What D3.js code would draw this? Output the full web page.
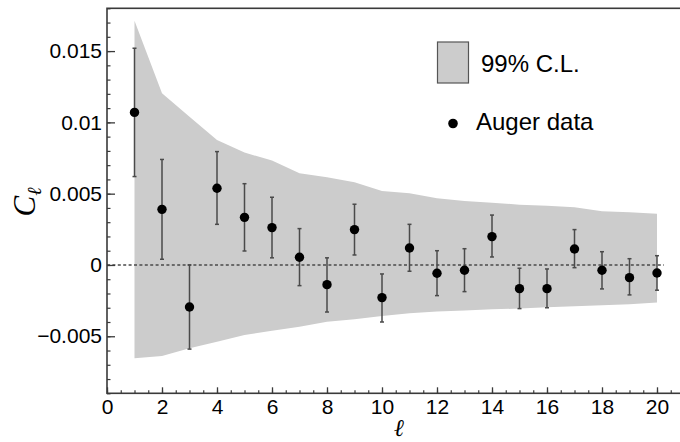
<!DOCTYPE html>
<html>
<head>
<meta charset="utf-8">
<script src="https://cdn.jsdelivr.net/npm/d3@7"></script>
<style>
  body { margin: 0; padding: 0; background: #fff; }
  svg { display: block; }
</style>
</head>
<body>
<div id="main"></div>
<script>
// multipole index
const ells = [1, 2, 3, 4, 5, 6, 7, 8, 9, 10, 11, 12, 13, 14, 15, 16, 17, 18, 19, 20];
// Auger data points and error bar ends
const augerCl = [0.0107, 0.0039, -0.00295, 0.00538, 0.00334, 0.00262, 0.00054, -0.00138, 0.00248, -0.00229,
                 0.00119, -0.00058, -0.00037, 0.00199, -0.00166, -0.00166, 0.00112, -0.00037, -0.00089, -0.00056];
const errLow = [0.0062, 0.0004, -0.0059, 0.00285, 0.00098, 0.0005, -0.00145, -0.0033, 0.0007, -0.004,
                -0.00044, -0.00215, -0.00187, 0.00056, -0.00306, -0.003, -0.00019, -0.00168, -0.0021, -0.00177];
const errHigh = [0.0152, 0.0074, 0.0, 0.00795, 0.0057, 0.00475, 0.00255, 0.0005, 0.00426, -0.00063,
                 0.00285, 0.001, 0.00114, 0.0035, -0.00023, -0.00028, 0.00248, 0.00093, 0.00044, 0.00065];
// 99% C.L. band
const bandHigh = [0.01713, 0.01204, 0.0104, 0.00877, 0.00788, 0.00732, 0.00643, 0.00615, 0.0058, 0.00519,
                  0.00503, 0.00468, 0.00449, 0.00437, 0.00423, 0.00416, 0.00405, 0.00377, 0.0037, 0.0036];
const bandLow = [-0.00654, -0.00638, -0.00584, -0.00538, -0.00491, -0.00461, -0.00433, -0.00398, -0.00381, -0.00358,
                 -0.00339, -0.00327, -0.0032, -0.00311, -0.00306, -0.00297, -0.0029, -0.00283, -0.00276, -0.00264];
const xTicks = [0, 2, 4, 6, 8, 10, 12, 14, 16, 18, 20];
const yTicks = [-0.005, 0, 0.005, 0.01, 0.015];
const yTickLabels = ['\u22120.005', '0', '0.005', '0.01', '0.015'];
const legendLabels = ['99% C.L.', 'Auger data'];

const WIDTH = 680, HEIGHT = 442;
const LEFT = 107, TOP = 8.3, BOTTOM = 393.3;
const AXISCOLOR = '#3a3a3a';
const FONT = '"Liberation Sans", Arial, Helvetica, sans-serif';

const scaleX = d3.scaleLinear().domain([0, 21]).range([LEFT, LEFT + 27.5 * 21]);
const scaleY = d3.scaleLinear().domain([-0.009, 0.018]).range([BOTTOM, TOP]);

const svg = d3.select('#main').append('svg')
    .attr('width', WIDTH)
    .attr('height', HEIGHT)
    .style('font-family', FONT);

const rows = ells.map((l, i) => ({l, v: augerCl[i], lo: errLow[i], hi: errHigh[i], bLo: bandLow[i], bHi: bandHigh[i]}));

// band
const area = d3.area()
    .x((d) => scaleX(d.l))
    .y0((d) => scaleY(d.bLo))
    .y1((d) => scaleY(d.bHi));
svg.append('path')
    .datum(rows)
    .attr('d', area)
    .attr('fill', '#cccccc');

// zero line
svg.append('line')
    .attr('x1', scaleX(0))
    .attr('x2', scaleX(20.25))
    .attr('y1', scaleY(0))
    .attr('y2', scaleY(0))
    .attr('stroke', '#4a4a4a')
    .attr('stroke-width', 1.4)
    .attr('stroke-dasharray', '3,2.4');

// error bars
const bars = svg.append('g').attr('stroke', '#4a4a4a').attr('stroke-width', 1.5);
bars.selectAll('line.err').data(rows).enter().append('line')
    .attr('class', 'err')
    .attr('x1', (d) => scaleX(d.l))
    .attr('x2', (d) => scaleX(d.l))
    .attr('y1', (d) => scaleY(d.lo))
    .attr('y2', (d) => scaleY(d.hi));
bars.selectAll('line.caplo').data(rows).enter().append('line')
    .attr('class', 'caplo')
    .attr('x1', (d) => scaleX(d.l) - 2)
    .attr('x2', (d) => scaleX(d.l) + 2)
    .attr('y1', (d) => scaleY(d.lo))
    .attr('y2', (d) => scaleY(d.lo));
bars.selectAll('line.caphi').data(rows).enter().append('line')
    .attr('class', 'caphi')
    .attr('x1', (d) => scaleX(d.l) - 2)
    .attr('x2', (d) => scaleX(d.l) + 2)
    .attr('y1', (d) => scaleY(d.hi))
    .attr('y2', (d) => scaleY(d.hi));

// points
svg.selectAll('circle.dot').data(rows).enter().append('circle')
    .attr('class', 'dot')
    .attr('cx', (d) => scaleX(d.l))
    .attr('cy', (d) => scaleY(d.v))
    .attr('r', 4.7)
    .attr('fill', '#000');

// frame
svg.append('rect')
    .attr('x', LEFT)
    .attr('y', TOP)
    .attr('width', scaleX(21) - LEFT)
    .attr('height', BOTTOM - TOP)
    .attr('fill', 'none')
    .attr('stroke', AXISCOLOR)
    .attr('stroke-width', 1.6);

// minor ticks
const minorX = d3.range(0, 21.01, 0.5);
svg.append('g')
    .attr('transform', `translate(0, ${BOTTOM})`)
    .call(d3.axisBottom(scaleX).tickValues(minorX).tickSize(-3).tickFormat(''))
    .call((g) => g.select('.domain').remove())
    .selectAll('line').attr('stroke', AXISCOLOR).attr('stroke-width', 1.2);
const minorY = d3.range(-9, 18.5, 1).map((v) => v / 1000);
svg.append('g')
    .attr('transform', `translate(${LEFT}, 0)`)
    .call(d3.axisLeft(scaleY).tickValues(minorY).tickSize(-3.5).tickFormat(''))
    .call((g) => g.select('.domain').remove())
    .selectAll('line').attr('stroke', AXISCOLOR).attr('stroke-width', 1.2);

// major axes
const axisX = svg.append('g')
    .attr('transform', `translate(0, ${BOTTOM})`)
    .call(d3.axisBottom(scaleX).tickValues(xTicks).tickSize(-6).tickPadding(6).tickFormat(d3.format('d')));
axisX.select('.domain').remove();
axisX.selectAll('line').attr('stroke', AXISCOLOR).attr('stroke-width', 1.3);
axisX.selectAll('text').attr('font-size', 21).attr('fill', '#000').attr('font-family', FONT);

const axisY = svg.append('g')
    .attr('transform', `translate(${LEFT}, 0)`)
    .call(d3.axisLeft(scaleY).tickValues(yTicks).tickSize(-8).tickPadding(5).tickFormat((d, i) => yTickLabels[i]));
axisY.select('.domain').remove();
axisY.selectAll('line').attr('stroke', AXISCOLOR).attr('stroke-width', 1.3);
axisY.selectAll('text').attr('font-size', 21).attr('fill', '#000').attr('font-family', FONT);

// axis titles
svg.append('text')
    .attr('x', 399)
    .attr('y', 436)
    .attr('text-anchor', 'middle')
    .attr('font-family', '"Liberation Serif", "DejaVu Serif", serif')
    .attr('font-style', 'italic')
    .attr('font-size', 24)
    .text('\u2113');

const yLabel = svg.append('text')
    .attr('transform', 'translate(35, 202) rotate(-90)')
    .attr('text-anchor', 'middle')
    .attr('font-family', '"Liberation Serif", "DejaVu Serif", serif')
    .attr('font-style', 'italic')
    .attr('font-size', 31);
yLabel.append('tspan').text('C');
yLabel.append('tspan').attr('font-size', 20).attr('dy', 6).text('\u2113');

// legend
const legend = svg.append('g').attr('id', 'legend');
legend.append('rect')
    .attr('x', 437.5)
    .attr('y', 42)
    .attr('width', 31)
    .attr('height', 41)
    .attr('fill', '#cccccc')
    .attr('stroke', '#555')
    .attr('stroke-width', 1.2);
legend.append('text')
    .attr('x', 481)
    .attr('y', 72)
    .attr('font-size', 24)
    .text(legendLabels[0]);
legend.append('circle')
    .attr('cx', 453)
    .attr('cy', 123.5)
    .attr('r', 4.8)
    .attr('fill', '#000');
legend.append('text')
    .attr('x', 476)
    .attr('y', 129.5)
    .attr('font-size', 24)
    .text(legendLabels[1]);
</script>
</body>
</html>
